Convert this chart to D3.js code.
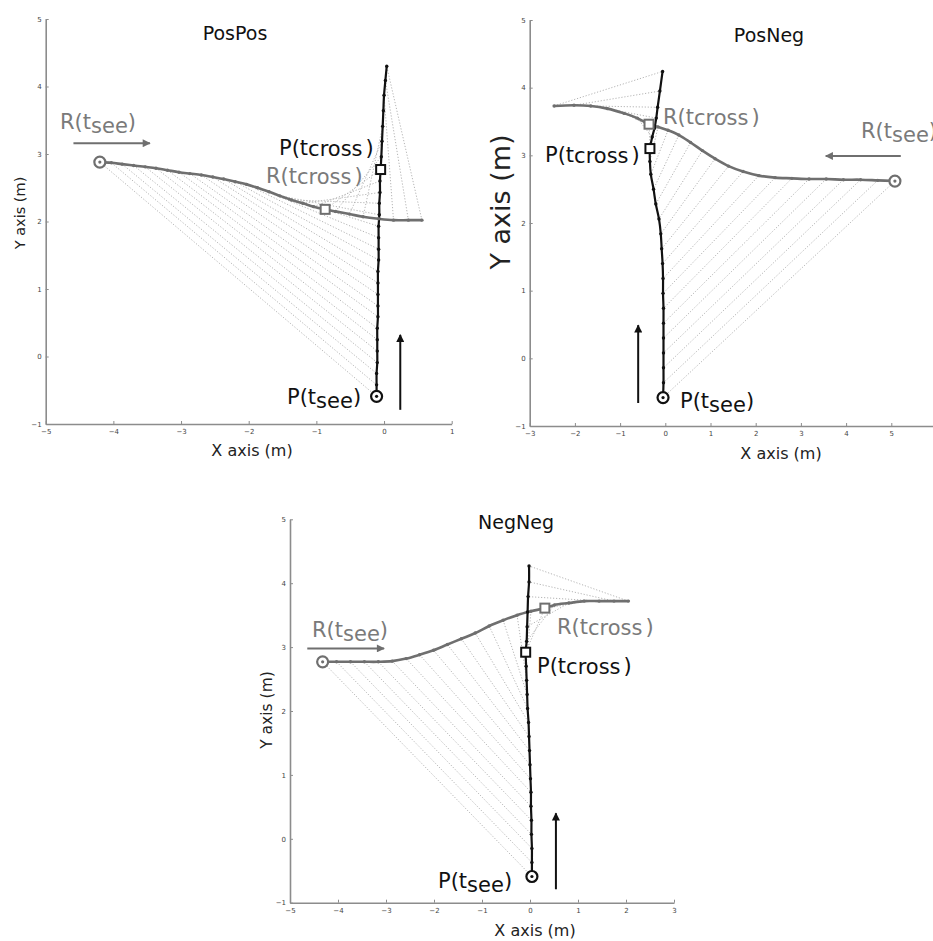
<!DOCTYPE html>
<html>
<head>
<meta charset="utf-8">
<script src="https://cdn.jsdelivr.net/npm/d3@7"></script>
<style>
  html, body { margin: 0; padding: 0; background: #fff; }
  svg { display: block; font-family: "DejaVu Sans", Verdana, sans-serif; }
</style>
</head>
<body>
<svg id="chart" width="933" height="941"></svg>
<script>
// ---------------- DATA ----------------
const yTicks = [-1, 0, 1, 2, 3, 4, 5];

// PosPos
const posPosTitle = "PosPos";
const posPosXTicks = [-5, -4, -3, -2, -1, 0, 1];
const posPosRobX = [-4.20, -4.03, -3.87, -3.70, -3.53, -3.37, -3.20, -3.03, -2.87, -2.70, -2.53, -2.37, -2.20, -2.03, -1.87, -1.70, -1.54, -1.37, -1.20, -1.04, -0.87, -0.72, -0.51, -0.31, -0.08, 0.14, 0.36, 0.56];
const posPosRobY = [2.88, 2.87, 2.85, 2.83, 2.81, 2.79, 2.76, 2.73, 2.71, 2.69, 2.66, 2.63, 2.59, 2.55, 2.50, 2.44, 2.38, 2.32, 2.27, 2.22, 2.18, 2.15, 2.11, 2.07, 2.04, 2.02, 2.02, 2.02];
const posPosPedX = [-0.11, -0.11, -0.11, -0.10, -0.10, -0.10, -0.10, -0.09, -0.09, -0.09, -0.09, -0.09, -0.08, -0.08, -0.08, -0.08, -0.07, -0.07, -0.06, -0.06, -0.05, -0.04, -0.03, -0.02, -0.01, 0.00, 0.02, 0.04];
const posPosPedY = [-0.59, -0.42, -0.25, -0.09, 0.08, 0.25, 0.42, 0.59, 0.75, 0.92, 1.09, 1.26, 1.43, 1.59, 1.76, 1.93, 2.10, 2.27, 2.43, 2.60, 2.77, 2.96, 3.19, 3.41, 3.64, 3.87, 4.09, 4.30];
const posPosCross = 20;
const posPosRobArrow = [[-4.59, 3.16], [-3.46, 3.16]];
const posPosPedArrow = [[0.24, -0.79], [0.24, 0.32]];

// PosNeg
const posNegTitle = "PosNeg";
const posNegXTicks = [-3, -2, -1, 0, 1, 2, 3, 4, 5, 6];
const posNegRobX = [5.08, 4.70, 4.32, 3.94, 3.56, 3.18, 2.80, 2.43, 2.07, 1.72, 1.40, 1.10, 0.82, 0.56, 0.30, 0.06, -0.16, -0.36, -0.62, -0.91, -1.28, -1.65, -2.02, -2.46];
const posNegRobY = [2.62, 2.63, 2.64, 2.64, 2.65, 2.65, 2.66, 2.67, 2.70, 2.76, 2.84, 2.95, 3.07, 3.19, 3.30, 3.37, 3.42, 3.46, 3.55, 3.62, 3.69, 3.73, 3.74, 3.73];
const posNegPedX = [-0.05, -0.04, -0.04, -0.04, -0.04, -0.04, -0.04, -0.05, -0.05, -0.06, -0.08, -0.10, -0.14, -0.21, -0.26, -0.32, -0.34, -0.34, -0.29, -0.24, -0.20, -0.17, -0.12, -0.06];
const posNegPedY = [-0.58, -0.36, -0.14, 0.08, 0.30, 0.52, 0.74, 0.96, 1.18, 1.40, 1.62, 1.84, 2.06, 2.28, 2.50, 2.72, 2.91, 3.10, 3.27, 3.40, 3.55, 3.71, 3.95, 4.24];
const posNegCross = 17;
const posNegRobArrow = [[5.21, 2.99], [3.55, 2.99]];
const posNegPedArrow = [[-0.60, -0.66], [-0.60, 0.49]];

// NegNeg
const negNegTitle = "NegNeg";
const negNegXTicks = [-5, -4, -3, -2, -1, 0, 1, 2, 3];
const negNegRobX = [-4.32, -4.03, -3.74, -3.45, -3.16, -2.87, -2.58, -2.30, -2.01, -1.72, -1.43, -1.14, -0.85, -0.56, -0.27, 0.02, 0.31, 0.51, 0.81, 1.13, 1.44, 1.75, 2.05];
const negNegRobY = [2.77, 2.77, 2.77, 2.77, 2.77, 2.78, 2.82, 2.88, 2.95, 3.04, 3.13, 3.22, 3.33, 3.42, 3.50, 3.56, 3.61, 3.66, 3.69, 3.72, 3.72, 3.72, 3.72];
const negNegPedX = [0.04, 0.04, 0.04, 0.03, 0.03, 0.02, 0.02, 0.01, 0.00, -0.01, -0.02, -0.03, -0.05, -0.06, -0.07, -0.08, -0.09, -0.07, -0.06, -0.05, -0.04, -0.02, -0.02];
const negNegPedY = [-0.59, -0.37, -0.15, 0.07, 0.29, 0.51, 0.73, 0.94, 1.16, 1.38, 1.60, 1.82, 2.04, 2.26, 2.48, 2.70, 2.92, 3.09, 3.32, 3.55, 3.79, 4.02, 4.27];
const negNegCross = 16;
const negNegRobArrow = [[-4.64, 2.98], [-3.04, 2.98]];
const negNegPedArrow = [[0.54, -0.79], [0.54, 0.40]];

// ---------------- LAYOUT ----------------
const panels = [
  {
    title: posPosTitle, xTicks: posPosXTicks, robX: posPosRobX, robY: posPosRobY, pedX: posPosPedX, pedY: posPosPedY,
    cross: posPosCross, robArrow: posPosRobArrow, pedArrow: posPosPedArrow,
    xr: [45.7, 451.7], yr: [424, 19],
    titlePos: [235, 40], xLabPos: [252, 456], yLabPos: [25, 213], yLabSize: 14.5,
    labels: { rSee: [60, 129], rCross: [266, 183], pCross: [279, 155], pSee: [287, 404] }
  },
  {
    title: posNegTitle, xTicks: posNegXTicks, robX: posNegRobX, robY: posNegRobY, pedX: posNegPedX, pedY: posNegPedY,
    cross: posNegCross, robArrow: posNegRobArrow, pedArrow: posNegPedArrow,
    xr: [529.7, 936.5], yr: [426, 20],
    titlePos: [769, 42], xLabPos: [781, 459], yLabPos: [510, 202], yLabSize: 27,
    labels: { rSee: [861, 138], rCross: [663, 124], pCross: [545, 162], pSee: [680, 408] }
  },
  {
    title: negNegTitle, xTicks: negNegXTicks, robX: negNegRobX, robY: negNegRobY, pedX: negNegPedX, pedY: negNegPedY,
    cross: negNegCross, robArrow: negNegRobArrow, pedArrow: negNegPedArrow,
    xr: [290, 674], yr: [902.7, 519.3],
    titlePos: [516, 529], xLabPos: [535, 936], yLabPos: [272, 710], yLabSize: 15.5,
    labels: { rSee: [312, 637], rCross: [557, 634], pCross: [537, 673], pSee: [438, 888] }
  }
];

const ROB = "#6f6f6f", PED = "#111", LINK = "#ababab", AXIS = "#8c8c8c";
const fmt = d3.format("d");
const svg = d3.select("#chart");

const defs = svg.append("defs");
[["headRob", ROB], ["headPed", PED]].forEach(([id, c]) => {
  defs.append("marker").attr("id", id).attr("viewBox", "0 0 10 10")
    .attr("refX", 9).attr("refY", 5).attr("markerWidth", 5).attr("markerHeight", 4)
    .attr("markerUnits", "strokeWidth").attr("orient", "auto")
    .append("path").attr("d", "M0,0 L10,5 L0,10 Z").attr("fill", c);
});

function addLabel(g, pos, main, sub, color, subShift) {
  const t = g.append("text").attr("x", pos[0]).attr("y", pos[1])
    .attr("font-size", 21).attr("fill", color);
  t.append("tspan").text(main);
  t.append("tspan").attr("dy", subShift).text(sub);
  t.append("tspan").attr("dy", -subShift).attr("dx", sub === "cross" ? 3 : 0).text(")");
}

panels.forEach(p => {
  const x = d3.scaleLinear().domain(d3.extent(p.xTicks)).range(p.xr);
  const y = d3.scaleLinear().domain(d3.extent(yTicks)).range(p.yr);
  const g = svg.append("g");

  // axes
  const xa = g.append("g").attr("transform", `translate(0,${p.yr[0]})`)
    .call(d3.axisBottom(x).tickValues(p.xTicks).tickFormat(fmt).tickSize(-3).tickSizeOuter(0).tickPadding(5));
  const ya = g.append("g").attr("transform", `translate(${p.xr[0]},0)`)
    .call(d3.axisLeft(y).tickValues(yTicks).tickFormat(fmt).tickSize(-3).tickSizeOuter(0).tickPadding(4));
  [xa, ya].forEach(a => {
    a.select(".domain").attr("stroke", AXIS).attr("stroke-width", 1.6);
    a.selectAll(".tick line").attr("stroke", AXIS);
    a.selectAll(".tick text").attr("font-size", 7).attr("fill", "#444").attr("font-family", "DejaVu Sans");
  });

  // titles
  g.append("text").attr("x", p.titlePos[0]).attr("y", p.titlePos[1]).attr("text-anchor", "middle")
    .attr("font-size", 19).attr("fill", "#111").text(p.title);
  g.append("text").attr("x", p.xLabPos[0]).attr("y", p.xLabPos[1]).attr("text-anchor", "middle")
    .attr("font-size", 16).attr("fill", "#222").text("X axis (m)");
  g.append("text").attr("transform", `translate(${p.yLabPos[0]},${p.yLabPos[1]}) rotate(-90)`)
    .attr("text-anchor", "middle").attr("font-size", p.yLabSize).attr("fill", "#222").text("Y axis (m)");

  const idx = d3.range(p.robX.length);
  const rob = idx.map(i => [p.robX[i], p.robY[i]]);
  const ped = idx.map(i => [p.pedX[i], p.pedY[i]]);

  // connecting dotted lines R(t) - P(t)
  g.append("g").selectAll("line").data(idx).join("line")
    .attr("x1", i => x(rob[i][0])).attr("y1", i => y(rob[i][1]))
    .attr("x2", i => x(ped[i][0])).attr("y2", i => y(ped[i][1]))
    .attr("stroke", LINK).attr("stroke-width", 0.9).attr("stroke-dasharray", "1.2,1.8");

  const line = d3.line().x(d => x(d[0])).y(d => y(d[1])).curve(d3.curveCatmullRom);
  g.append("path").datum(rob).attr("d", line).attr("fill", "none").attr("stroke", ROB).attr("stroke-width", 2.6);
  g.append("path").datum(ped).attr("d", line).attr("fill", "none").attr("stroke", PED).attr("stroke-width", 2.2);

  g.append("g").selectAll("circle").data(rob).join("circle")
    .attr("cx", d => x(d[0])).attr("cy", d => y(d[1])).attr("r", 1.7).attr("fill", ROB);
  g.append("g").selectAll("circle").data(ped).join("circle")
    .attr("cx", d => x(d[0])).attr("cy", d => y(d[1])).attr("r", 1.7).attr("fill", PED);

  // start circles
  [[rob[0], ROB], [ped[0], PED]].forEach(([d, c]) => {
    g.append("circle").attr("cx", x(d[0])).attr("cy", y(d[1])).attr("r", 5.5)
      .attr("fill", "#fff").attr("stroke", c).attr("stroke-width", 2.2);
    g.append("circle").attr("cx", x(d[0])).attr("cy", y(d[1])).attr("r", 1.6).attr("fill", c);
  });
  // crossing squares
  [[rob[p.cross], ROB], [ped[p.cross], PED]].forEach(([d, c]) => {
    g.append("rect").attr("x", x(d[0]) - 4.5).attr("y", y(d[1]) - 4.5).attr("width", 9).attr("height", 9)
      .attr("fill", "#fff").attr("stroke", c).attr("stroke-width", 2);
  });

  // direction arrows
  g.append("line").attr("x1", x(p.robArrow[0][0])).attr("y1", y(p.robArrow[0][1]))
    .attr("x2", x(p.robArrow[1][0])).attr("y2", y(p.robArrow[1][1]))
    .attr("stroke", ROB).attr("stroke-width", 2).attr("marker-end", "url(#headRob)");
  g.append("line").attr("x1", x(p.pedArrow[0][0])).attr("y1", y(p.pedArrow[0][1]))
    .attr("x2", x(p.pedArrow[1][0])).attr("y2", y(p.pedArrow[1][1]))
    .attr("stroke", PED).attr("stroke-width", 2).attr("marker-end", "url(#headPed)");

  // annotations
  addLabel(g, p.labels.rSee, "R(t", "see", "#7a7a7a", 4);
  addLabel(g, p.labels.rCross, "R(t", "cross", "#7a7a7a", 1);
  addLabel(g, p.labels.pCross, "P(t", "cross", "#111", 1);
  addLabel(g, p.labels.pSee, "P(t", "see", "#111", 4);
});
</script>
</body>
</html>
